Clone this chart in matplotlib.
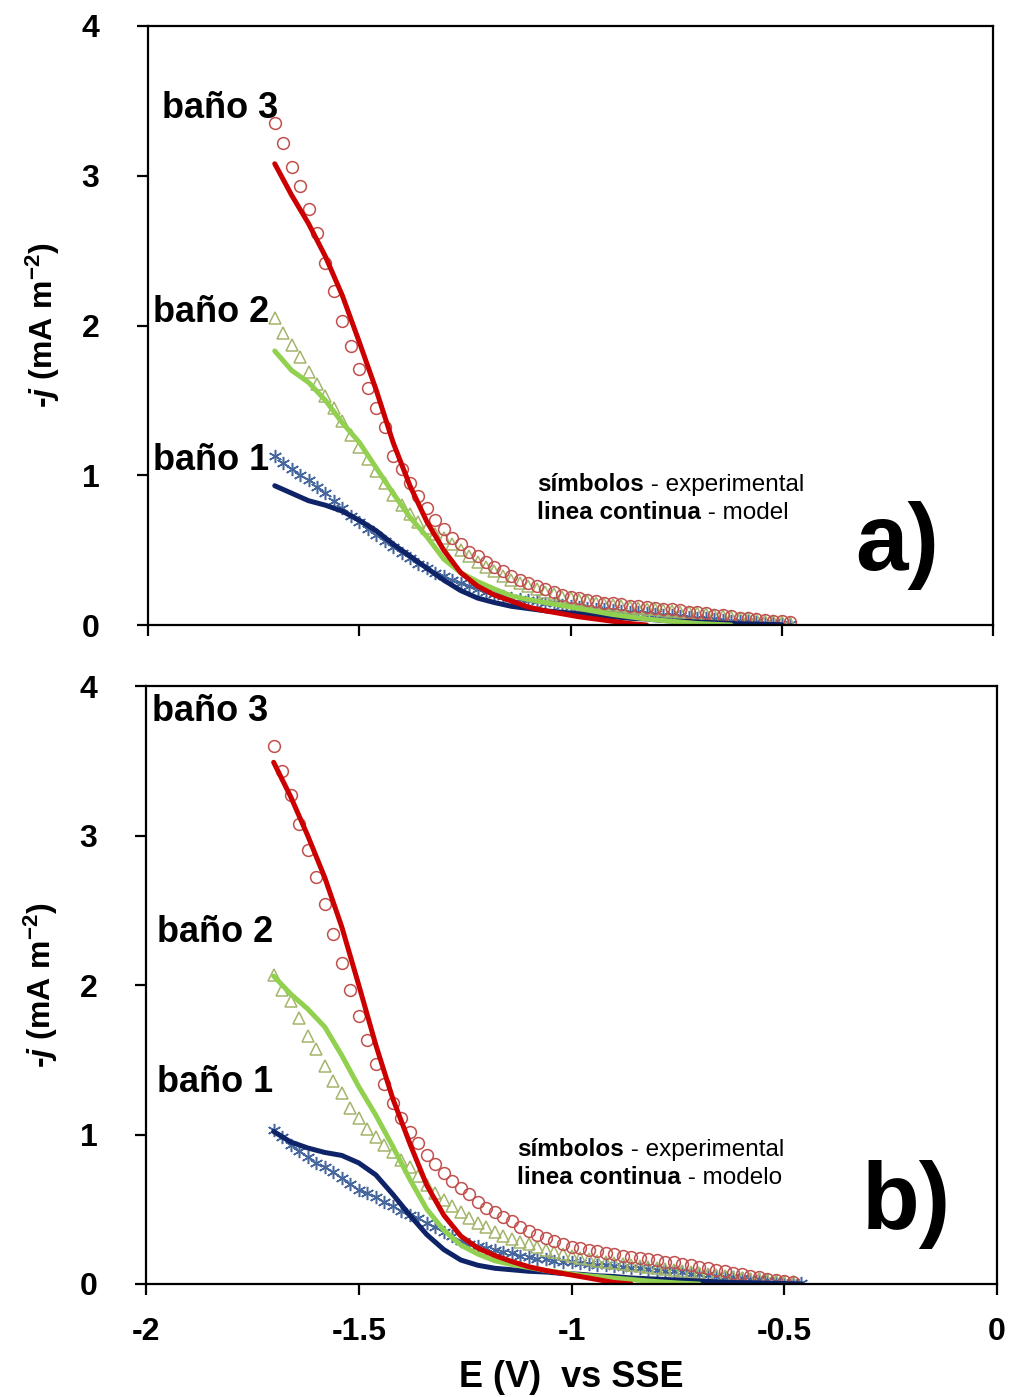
import numpy as np
import matplotlib
matplotlib.use("Agg")
import matplotlib.pyplot as plt

plt.rcParams['font.family'] = ['Liberation Sans', 'DejaVu Sans']
plt.rcParams['axes.unicode_minus'] = False
plt.rcParams['mathtext.fontset'] = 'custom'
plt.rcParams['mathtext.rm'] = 'Liberation Sans:bold'
plt.rcParams['mathtext.it'] = 'Liberation Sans:bold:italic'
plt.rcParams['mathtext.bf'] = 'Liberation Sans:bold'

nan = np.nan

# potential sweep of the experimental points (V vs SSE)
E_exp = [-1.70, -1.68, -1.66, -1.64, -1.62, -1.60, -1.58, -1.56, -1.54, -1.52,
         -1.50, -1.48, -1.46, -1.44, -1.42, -1.40, -1.38, -1.36, -1.34, -1.32,
         -1.30, -1.28, -1.26, -1.24, -1.22, -1.20, -1.18, -1.16, -1.14, -1.12,
         -1.10, -1.08, -1.06, -1.04, -1.02, -1.00, -0.98, -0.96, -0.94, -0.92,
         -0.90, -0.88, -0.86, -0.84, -0.82, -0.80, -0.78, -0.76, -0.74, -0.72,
         -0.70, -0.68, -0.66, -0.64, -0.62, -0.60, -0.58, -0.56, -0.54, -0.52,
         -0.50, -0.48, -0.46]

# potentials of the model curves
E_mod = [-1.70, -1.66, -1.62, -1.58, -1.54, -1.50, -1.46, -1.42, -1.38, -1.34,
         -1.30, -1.26, -1.22, -1.18, -1.14, -1.10, -1.06, -1.02, -0.98, -0.94,
         -0.90, -0.86, -0.82, -0.78, -0.74, -0.70, -0.66, -0.62, -0.58, -0.54,
         -0.50, -0.46]

# panel a) experimental, -j (mA m-2)
a_exp3 = [3.35, 3.22, 3.06, 2.93, 2.78, 2.62, 2.42, 2.23, 2.03, 1.86,
          1.71, 1.58, 1.45, 1.32, 1.13, 1.04, 0.95, 0.86, 0.78, 0.70,
          0.64, 0.58, 0.54, 0.49, 0.46, 0.42, 0.39, 0.36, 0.33, 0.30,
          0.28, 0.26, 0.24, 0.22, 0.20, 0.19, 0.18, 0.17, 0.16, 0.15,
          0.145, 0.14, 0.13, 0.125, 0.12, 0.115, 0.11, 0.105, 0.10, 0.09,
          0.085, 0.08, 0.07, 0.065, 0.06, 0.05, 0.045, 0.04, 0.035, 0.03,
          0.025, 0.02, nan]
a_exp2 = [2.05, 1.95, 1.87, 1.79, 1.69, 1.61, 1.53, 1.45, 1.36, 1.27,
          1.19, 1.11, 1.03, 0.95, 0.87, 0.80, 0.74, 0.69, 0.65, 0.61,
          0.58, 0.54, 0.50, 0.46, 0.42, 0.39, 0.36, 0.33, 0.30, 0.28,
          0.26, 0.24, 0.22, 0.205, 0.19, 0.18, 0.17, 0.16, 0.15, 0.14,
          0.135, 0.13, 0.12, 0.115, 0.11, 0.105, 0.10, 0.095, 0.09, 0.085,
          0.08, 0.075, 0.07, 0.06, 0.055, 0.05, 0.045, 0.04, 0.03, 0.025,
          0.02, 0.015, nan]
a_exp1 = [1.13, 1.08, 1.04, 1.00, 0.97, 0.92, 0.88, 0.83, 0.78, 0.73,
          0.69, 0.64, 0.60, 0.56, 0.52, 0.48, 0.45, 0.41, 0.38, 0.35,
          0.33, 0.30, 0.28, 0.26, 0.24, 0.22, 0.21, 0.195, 0.18, 0.175,
          0.165, 0.16, 0.15, 0.145, 0.135, 0.13, 0.12, 0.115, 0.11, 0.105,
          0.10, 0.095, 0.09, 0.085, 0.08, 0.075, 0.07, 0.065, 0.06, 0.055,
          0.05, 0.045, 0.04, 0.035, 0.03, 0.028, 0.025, 0.02, 0.015, 0.012,
          0.01, 0.005, nan]

# panel a) model
a_mod3 = [3.08, 2.87, 2.68, 2.46, 2.20, 1.89, 1.57, 1.22, 0.93, 0.69,
          0.50, 0.35, 0.26, 0.20, 0.16, 0.12, 0.095, 0.075, 0.055, 0.04,
          0.025, 0.01, 0.0, nan, nan, nan, nan, nan, nan, nan,
          nan, nan]
a_mod2 = [1.83, 1.70, 1.62, 1.50, 1.35, 1.22, 1.05, 0.88, 0.72, 0.59,
          0.44, 0.35, 0.29, 0.24, 0.195, 0.17, 0.15, 0.13, 0.11, 0.09,
          0.07, 0.055, 0.04, 0.03, 0.02, 0.01, 0.005, 0.0, nan, nan,
          nan, nan]
a_mod1 = [0.93, 0.88, 0.83, 0.80, 0.76, 0.70, 0.63, 0.54, 0.46, 0.38,
          0.30, 0.23, 0.18, 0.15, 0.125, 0.11, 0.095, 0.085, 0.075, 0.065,
          0.055, 0.045, 0.04, 0.03, 0.025, 0.02, 0.015, 0.01, 0.007, 0.004,
          0.002, nan]

# panel b) experimental
b_exp3 = [3.60, 3.43, 3.27, 3.08, 2.90, 2.72, 2.54, 2.34, 2.15, 1.97,
          1.79, 1.63, 1.47, 1.34, 1.21, 1.11, 1.02, 0.94, 0.86, 0.80,
          0.74, 0.69, 0.64, 0.60, 0.55, 0.51, 0.48, 0.45, 0.42, 0.38,
          0.355, 0.33, 0.31, 0.285, 0.265, 0.25, 0.24, 0.23, 0.22, 0.21,
          0.20, 0.19, 0.18, 0.175, 0.17, 0.16, 0.15, 0.145, 0.135, 0.125,
          0.115, 0.105, 0.095, 0.085, 0.075, 0.065, 0.055, 0.045, 0.035, 0.025,
          0.02, 0.01, nan]
b_exp2 = [2.07, 1.97, 1.89, 1.78, 1.66, 1.57, 1.46, 1.36, 1.28, 1.18,
          1.11, 1.04, 0.98, 0.93, 0.88, 0.83, 0.78, 0.72, 0.66, 0.61,
          0.56, 0.52, 0.48, 0.44, 0.41, 0.38, 0.35, 0.32, 0.30, 0.28,
          0.265, 0.25, 0.23, 0.215, 0.20, 0.185, 0.175, 0.165, 0.155, 0.15,
          0.14, 0.135, 0.13, 0.12, 0.115, 0.11, 0.10, 0.095, 0.09, 0.08,
          0.075, 0.07, 0.06, 0.055, 0.05, 0.04, 0.035, 0.03, 0.025, 0.02,
          0.015, 0.01, nan]
b_exp1 = [1.03, 0.98, 0.93, 0.89, 0.85, 0.81, 0.78, 0.75, 0.71, 0.67,
          0.63, 0.61, 0.58, 0.55, 0.52, 0.49, 0.46, 0.44, 0.41, 0.38,
          0.35, 0.32, 0.29, 0.27, 0.255, 0.24, 0.225, 0.215, 0.205, 0.19,
          0.18, 0.17, 0.165, 0.155, 0.15, 0.145, 0.14, 0.135, 0.13, 0.125,
          0.12, 0.115, 0.11, 0.105, 0.10, 0.095, 0.09, 0.085, 0.08, 0.07,
          0.065, 0.06, 0.055, 0.05, 0.045, 0.04, 0.035, 0.03, 0.025, 0.02,
          0.015, 0.01, 0.005]

# panel b) model
b_mod3 = [3.49, 3.26, 3.00, 2.72, 2.39, 2.00, 1.60, 1.24, 0.94, 0.66,
          0.46, 0.32, 0.24, 0.19, 0.15, 0.115, 0.09, 0.07, 0.05, 0.03,
          0.01, 0.0, nan, nan, nan, nan, nan, nan, nan, nan,
          nan, nan]
b_mod2 = [2.06, 1.94, 1.84, 1.72, 1.53, 1.32, 1.13, 0.92, 0.70, 0.50,
          0.36, 0.26, 0.20, 0.155, 0.13, 0.11, 0.09, 0.075, 0.06, 0.05,
          0.04, 0.03, 0.02, 0.012, 0.005, 0.0, nan, nan, nan, nan,
          nan, nan]
b_mod1 = [1.02, 0.95, 0.91, 0.88, 0.86, 0.81, 0.73, 0.60, 0.46, 0.33,
          0.23, 0.16, 0.125, 0.105, 0.095, 0.085, 0.08, 0.07, 0.065, 0.055,
          0.05, 0.04, 0.035, 0.03, 0.025, 0.02, 0.015, 0.01, 0.008, 0.005,
          0.003, 0.0]

x_ticks = [-2, -1.5, -1, -0.5, 0]
x_ticklabels = ['-2', '-1.5', '-1', '-0.5', '0']
y_ticks = [0, 1, 2, 3, 4]
bath_labels = ['baño 1', 'baño 2', 'baño 3']

# colours
c_line = ['#0f2468', '#92d050', '#cc0000']
c_mark = ['#46679e', '#a3b56c', '#c0504d']

fig = plt.figure(figsize=(10.11, 13.97), dpi=100)
ax_a = fig.add_axes([0.1464, 0.5526, 0.8358, 0.4288])
ax_b = fig.add_axes([0.1444, 0.0809, 0.8418, 0.4280])


def draw_panel(ax, exps, mods, label_pos, legend_pos, model_word, letter_pos, letter):
    # experimental symbols
    ax.plot(E_exp, exps[0], linestyle='none', marker=(6, 2, 0), markersize=9.5,
            markeredgewidth=1.1, color=c_mark[0])
    ax.plot(E_exp, exps[1], linestyle='none', marker='^', markersize=8,
            markerfacecolor='none', markeredgewidth=1.1, color=c_mark[1])
    ax.plot(E_exp, exps[2], linestyle='none', marker='o', markersize=8.5,
            markerfacecolor='none', markeredgewidth=1.1, color=c_mark[2])
    # model lines
    for k in range(3):
        ax.plot(E_mod, mods[k], color=c_line[k], linewidth=3.6,
                solid_capstyle='round')

    for txt, (x, y) in zip(bath_labels, label_pos):
        ax.text(x, y, txt, fontsize=26, fontweight='bold', ha='left', va='center')

    lx, ly = legend_pos
    t1 = ax.text(lx, ly, 'símbolos', fontsize=17.5, fontweight='bold',
                 ha='left', va='center')
    ax.annotate(' - experimental', xy=(1, 0), xycoords=t1, fontsize=17.5,
                ha='left', va='bottom')
    t2 = ax.text(lx, ly - 0.19, 'linea continua', fontsize=17.5, fontweight='bold',
                 ha='left', va='center')
    ax.annotate(' - ' + model_word, xy=(1, 0), xycoords=t2, fontsize=17.5,
                ha='left', va='bottom')

    ax.text(letter_pos[0], letter_pos[1], letter, fontsize=68, fontweight='bold',
            ha='left', va='center')

    ax.set_xlim(-2, 0)
    ax.set_ylim(0, 4)
    ax.set_xticks(x_ticks)
    ax.set_yticks(y_ticks)
    ax.set_yticklabels([str(v) for v in y_ticks], fontweight='bold')
    for sp in ax.spines.values():
        sp.set_linewidth(1.6)
    ax.tick_params(direction='out', length=8, width=1.6, labelsize=23)
    ax.tick_params(axis='y', pad=27)
    ax.set_ylabel('-$j$ (mA m$^{-2}$)', fontsize=23, fontweight='bold', labelpad=14)


draw_panel(ax_a, [a_exp1, a_exp2, a_exp3], [a_mod1, a_mod2, a_mod3],
           [(-1.988, 1.10), (-1.988, 2.09), (-1.967, 3.45)],
           (-1.079, 0.94), 'model', (-0.327, 0.53), 'a)')
ax_a.set_xticklabels([])

draw_panel(ax_b, [b_exp1, b_exp2, b_exp3], [b_mod1, b_mod2, b_mod3],
           [(-1.974, 1.35), (-1.974, 2.35), (-1.986, 3.83)],
           (-1.128, 0.90), 'modelo', (-0.317, 0.53), 'b)')
ax_b.set_xticklabels(x_ticklabels, fontweight='bold')
ax_b.tick_params(axis='x', pad=16)
ax_b.set_xlabel('E (V)  vs SSE', fontsize=26, fontweight='bold', labelpad=9)

fig.savefig('out.png', dpi=100)
